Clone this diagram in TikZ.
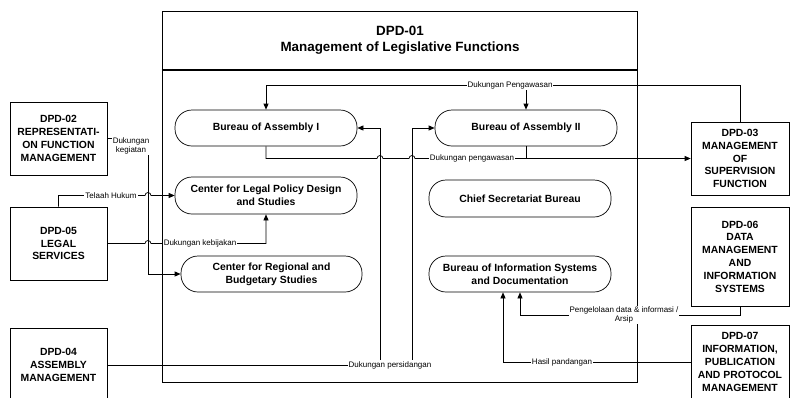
\documentclass[tikz,border=0pt]{standalone}
\usepackage{fontspec}
\setmainfont{Liberation Sans}
\usetikzlibrary{arrows.meta}

\begin{document}
\begin{tikzpicture}[x=1pt,y=-1pt,line width=0.7pt,
	unit/.style={draw,minimum width=97pt,inner sep=1pt,align=center,font=\fontsize{10.4}{12.8}\selectfont\bfseries},
	bureau/.style={draw,rounded corners=17pt,minimum width=182pt,minimum height=36pt,inner sep=1pt,align=center,font=\fontsize{10.4}{12.8}\selectfont\bfseries},
	lbl/.style={fill=white,inner sep=1pt,align=center,font=\fontsize{8}{9}\selectfont},
	arr/.style={-{Triangle[length=6pt,width=5pt]}}]
			\useasboundingbox (0,0) rectangle (790,397);
			% main frame
			\node (frame) at (399.5,196.5) [draw,minimum width=475pt,minimum height=371pt] {};
			\draw [line width=1.6pt] (frame.west |- 0,70) -- (frame.east |- 0,70);
			\node (dpd01) at (400,40) [align=center,font=\fontsize{13.4}{16}\selectfont\bfseries] {DPD-01\\Management of Legislative Functions};
			% units outside
			\node (dpd02) at (58.5,138.5) [unit,minimum height=73pt] {DPD-02\\REPRESENTATI-\\ON FUNCTION\\MANAGEMENT};
			\node (dpd05) at (58.5,243.5) [unit,minimum height=73pt] {DPD-05\\LEGAL\\SERVICES};
			\node (dpd04) at (58.5,365) [unit,minimum height=74pt] {DPD-04\\ASSEMBLY\\MANAGEMENT};
			\node (dpd03) at (740,158.5) [unit,minimum width=98pt,minimum height=73pt] {DPD-03\\MANAGEMENT\\OF\\SUPERVISION\\FUNCTION};
			\node (dpd06) at (740,256.5) [unit,minimum width=98pt,minimum height=99pt] {DPD-06\\DATA\\MANAGEMENT\\AND\\INFORMATION\\SYSTEMS};
			\node (dpd07) at (740,362) [unit,minimum width=98pt,minimum height=74pt] {DPD-07\\INFORMATION,\\PUBLICATION\\AND PROTOCOL\\MANAGEMENT};
			% bureaus inside
			\node (ba1) at (266,128) [bureau] {Bureau of Assembly I};
			\node (ba2) at (526,128) [bureau] {Bureau of Assembly II};
			\node (clp) at (266,195.5) [bureau,minimum height=37pt] {Center for Legal Policy Design\\and Studies};
			\node (crb) at (271.5,274) [bureau,minimum width=181pt] {Center for Regional and\\Budgetary Studies};
			\node (csb) at (520,198.5) [bureau,minimum height=37pt] {Chief Secretariat Bureau};
			\node (bis) at (520,274) [bureau] {Bureau of Information Systems\\and Documentation};
			% helper coordinates
			\coordinate (atas) at (0,85);
			\coordinate (p1) at (380,0);
			\coordinate (p2) at (412,0);
			\coordinate (kx) at (148,0);
			\coordinate (pd) at (0,315);
			% connectors
			\draw [arr] (dpd03.north) |- (atas -| ba1.north) -- (ba1.north);
			\draw [arr] (atas -| ba2.north) -- (ba2.north);
			\draw [arr] (ba1.south) |- ([xshift=-3pt]p1 |- dpd03.west) arc [start angle=180,end angle=0,radius=3pt]
				-- ([xshift=-3pt]p2 |- dpd03.west) arc [start angle=180,end angle=0,radius=3pt] -- (dpd03.west);
			\draw (ba2.south) -- (ba2.south |- dpd03.west);
			\draw [arr] (dpd04.east) -- (p2 |- dpd04.east) -- (p2 |- ba2.west) -- (ba2.west);
			\draw [arr] (p1 |- dpd04.east) -- (p1 |- ba1.east) -- (ba1.east);
			\draw [arr] (dpd02.east) -- (kx |- dpd02.east) -- (kx |- crb.west) -- (crb.west);
			\draw [arr] (dpd05.north) |- ([xshift=-3pt]kx |- clp.west) arc [start angle=180,end angle=0,radius=3pt] -- (clp.west);
			\draw [arr] (dpd05.east) -- ([xshift=-3pt]kx |- dpd05.east) arc [start angle=180,end angle=0,radius=3pt]
				-- (dpd05.east -| clp.south) -- (clp.south);
			\draw [arr] (dpd06.south) |- (pd -| bis.south) -- (bis.south);
			\draw [arr] (dpd07.west) -| ([xshift=-17pt]bis.south);
			% labels
			\node (l1) at (510,85) [lbl] {Dukungan Pengawasan};
			\node (l2) at (472,158.5) [lbl] {Dukungan pengawasan};
			\node (l3) at (131,146) [lbl] {Dukungan\\kegiatan};
			\node (l4) at (111,196) [lbl] {Telaah Hukum};
			\node (l5) at (200,243.5) [lbl] {Dukungan kebijakan};
			\node (l6) at (390,365) [lbl] {Dukungan persidangan};
			\node (l7) at (624,315) [lbl] {Pengelolaan data \& informasi /\\Arsip};
			\node (l8) at (562,362) [lbl] {Hasil pandangan};
		\end{tikzpicture}
\end{document}
